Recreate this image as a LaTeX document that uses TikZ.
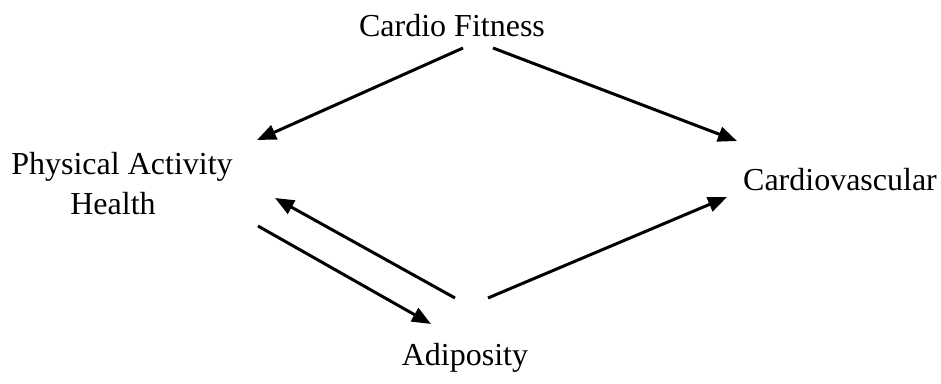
\documentclass[tikz,border=0pt]{standalone}
\usepackage{fontspec}
\setmainfont{Liberation Serif}
\usetikzlibrary{arrows.meta}
\begin{document}
\begin{tikzpicture}[x=1pt,y=-1pt,
  lbl/.style={font=\fontsize{32}{40}\selectfont, inner sep=0pt, align=center},
  link/.style={line width=3pt, -{Triangle[length=19pt,width=15pt]}}]
\useasboundingbox (0,0) rectangle (941,383);
% variables
\node[lbl] (cf)  at (452,26)  {Cardio Fitness};
\node[lbl] (pa)  at (122,184) {Physical Activity\\\hspace*{-18pt}Health};
\node[lbl] (cv)  at (840,180) {Cardiovascular};
\node[lbl] (ad)  at (465,358) {Adiposity};
% arrow end points near each variable
\coordinate (cfL) at (463,48);
\coordinate (cfR) at (493,48);
\coordinate (paR1) at (257,140);
\coordinate (paR2) at (275,198);
\coordinate (paR3) at (258,226);
\coordinate (cvL1) at (737,141);
\coordinate (cvL2) at (727,197);
\coordinate (adL1) at (455,298);
\coordinate (adL2) at (431,324);
\coordinate (adR) at (488,298);
% paths
\draw[link] (cfL) -- (paR1);
\draw[link] (cfR) -- (cvL1);
\draw[link] (adL1) -- (paR2);
\draw[link] (paR3) -- (adL2);
\draw[link] (adR) -- (cvL2);
\end{tikzpicture}
\end{document}
